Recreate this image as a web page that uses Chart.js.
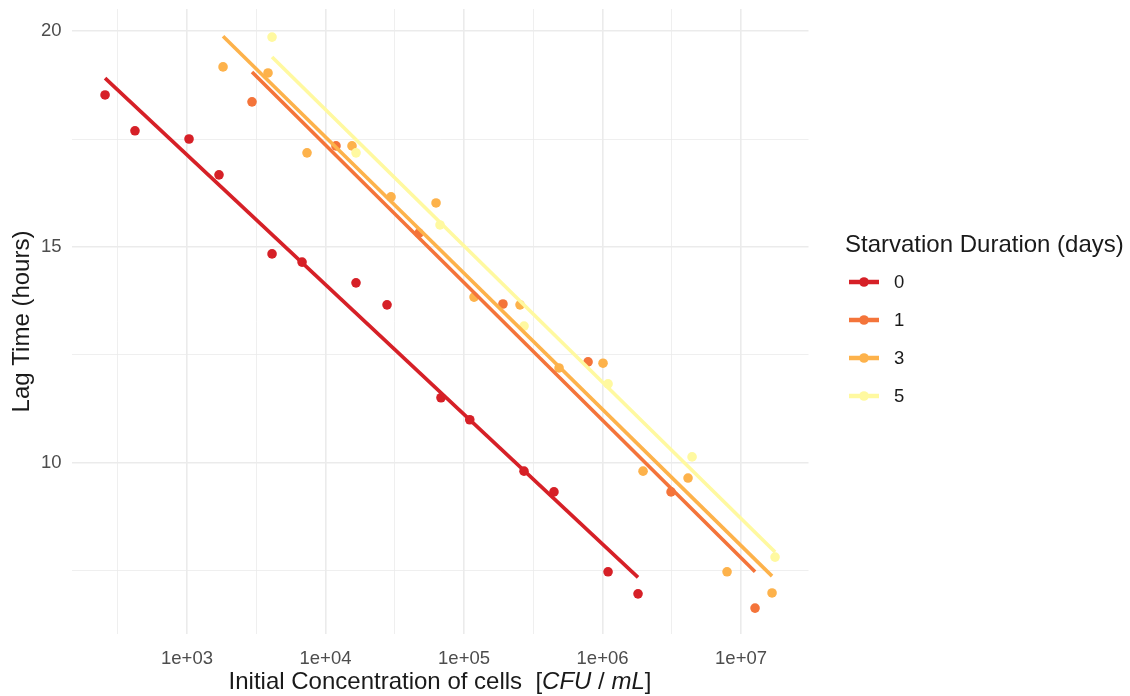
<!DOCTYPE html>
<html>
<head>
<meta charset="utf-8">
<script src="https://cdn.jsdelivr.net/npm/chart.js@4.4.1/dist/chart.umd.min.js"></script>
<style>
  html, body { margin: 0; padding: 0; background: #fff; }
  #wrap { width: 1130px; height: 696px; }
</style>
</head>
<body>
<div id="wrap"><canvas id="lagChart" width="1130" height="696"></canvas></div>
<script>
// groups (starvation duration, days)
const groups = ["0", "1", "3", "5"];
const colors = ["#D62027", "#F4743A", "#FDB24B", "#FFF9A0"];

// measured points: initial concentration (CFU/mL) and lag time (hours)
const conc0 = [256, 421, 1034, 1702, 4110, 6770, 16600, 27800, 68200, 110000, 271000, 446000, 1096000, 1804000];
const lag0 = [18.52, 17.69, 17.5, 16.67, 14.84, 14.65, 14.17, 13.66, 11.51, 11.0, 9.81, 9.33, 7.48, 6.97];
const conc1 = [2946, 11900, 47300, 191000, 786000, 3124000, 12620000];
const lag1 = [18.36, 17.34, 15.32, 13.68, 12.34, 9.33, 6.64];
const conc3 = [1820, 3844, 7352, 15530, 29710, 62790, 118100, 253700, 485200, 1008000, 1961000, 4143000, 7924000, 16740000];
const lag3 = [19.17, 19.03, 17.18, 17.34, 16.16, 16.02, 13.84, 13.66, 12.2, 12.31, 9.81, 9.65, 7.48, 6.99];
const conc5 = [4110, 16610, 67100, 271200, 1096000, 4430000, 17600000];
const lag5 = [19.86, 17.18, 15.51, 13.17, 11.83, 10.14, 7.82];

// fitted line end points
const fitX0 = [256, 1804000], fitY0 = [18.91, 7.35];
const fitX1 = [2946, 12620000], fitY1 = [19.05, 7.48];
const fitX3 = [1820, 16740000], fitY3 = [19.88, 7.38];
const fitX5 = [4110, 17600000], fitY5 = [19.4, 7.94];

// ticks
const xTicks = [316.2, 1e3, 3162, 1e4, 31623, 1e5, 316228, 1e6, 3162278, 1e7];
const xTickLabels = ["", "1e+03", "", "1e+04", "", "1e+05", "", "1e+06", "", "1e+07"];
const yTicks = [7.5, 10, 12.5, 15, 17.5, 20];
const yTickLabels = ["", "10", "", "15", "", "20"];

const pts = (xs, ys) => xs.map((x, i) => ({ x: x, y: ys[i] }));

const allConc = [conc0, conc1, conc3, conc5];
const allLag = [lag0, lag1, lag3, lag5];
const allFitX = [fitX0, fitX1, fitX3, fitX5];
const allFitY = [fitY0, fitY1, fitY3, fitY5];

const datasets = [];
groups.forEach((g, i) => {
  datasets.push({
    type: "scatter",
    label: g,
    data: pts(allConc[i], allLag[i]),
    backgroundColor: colors[i],
    borderWidth: 0,
    pointRadius: 4.8,
    order: 10 - i,
  });
});
groups.forEach((g, i) => {
  datasets.push({
    type: "line",
    label: g + " fit",
    data: pts(allFitX[i], allFitY[i]),
    borderColor: colors[i],
    borderWidth: 3.6,
    borderCapStyle: "butt",
    pointRadius: 0,
    fill: false,
    order: 5 - i,
  });
});

const isMajorX = (v) => Math.abs(Math.log10(v) - Math.round(Math.log10(v))) < 0.01;
const isMajorY = (v) => v % 5 === 0;
const FONT = "'Liberation Sans', Arial, sans-serif";

const extraText = {
  id: "extraText",
  afterDraw(chart) {
    const ctx = chart.ctx;
    const area = chart.chartArea;
    ctx.save();
    ctx.fillStyle = "#1A1A1A";
    // y title
    ctx.font = "24px " + FONT;
    ctx.textAlign = "center";
    ctx.textBaseline = "middle";
    ctx.save();
    ctx.translate(22, (area.top + area.bottom) / 2);
    ctx.rotate(-Math.PI / 2);
    ctx.fillText("Lag Time (hours)", 0, 0);
    ctx.restore();

    // x title with italic units
    const parts = [
      ["Initial Concentration of cells  [", "normal"],
      ["CFU", "italic"],
      [" / ", "normal"],
      ["mL", "italic"],
      ["]", "normal"],
    ];
    let total = 0;
    parts.forEach((p) => {
      ctx.font = (p[1] === "italic" ? "italic " : "") + "24px " + FONT;
      total += ctx.measureText(p[0]).width;
    });
    let x = (area.left + area.right) / 2 - total / 2;
    ctx.textAlign = "left";
    ctx.textBaseline = "alphabetic";
    parts.forEach((p) => {
      ctx.font = (p[1] === "italic" ? "italic " : "") + "24px " + FONT;
      ctx.fillText(p[0], x, 689);
      x += ctx.measureText(p[0]).width;
    });

    // legend
    ctx.font = "24px " + FONT;
    ctx.fillText("Starvation Duration (days)", 845, 252);
    const keyY = [282, 320, 358, 396];
    groups.forEach((g, i) => {
      ctx.strokeStyle = colors[i];
      ctx.lineWidth = 4.5;
      ctx.lineCap = "butt";
      ctx.beginPath();
      ctx.moveTo(849, keyY[i]);
      ctx.lineTo(879, keyY[i]);
      ctx.stroke();
      ctx.fillStyle = colors[i];
      ctx.beginPath();
      ctx.arc(864, keyY[i], 4.8, 0, Math.PI * 2);
      ctx.fill();
      ctx.fillStyle = "#1A1A1A";
      ctx.font = "18.5px " + FONT;
      ctx.textBaseline = "middle";
      ctx.fillText(g, 894, keyY[i] + 1);
    });
    ctx.restore();
  },
};

const ctxLag = document.getElementById("lagChart").getContext("2d");

const lagChart = new Chart(ctxLag, {
  data: { datasets: datasets },
  options: {
    responsive: false,
    animation: false,
    layout: { padding: { top: 9, right: 321.5, left: 0, bottom: 0 } },
    plugins: {
      legend: { display: false },
      tooltip: { enabled: false },
    },
    scales: {
      x: {
        type: "logarithmic",
        bounds: "data",
        min: Math.pow(10, 2.166),
        max: Math.pow(10, 7.487),
        afterBuildTicks: (scale) => {
          scale.ticks = xTicks.map((v) => ({ value: v }));
        },
        afterFit: (scale) => {
          scale.height = 62;
          scale.paddingLeft = 0;
          scale.paddingRight = 0;
        },
        border: { display: false },
        grid: {
          color: "#EBEBEB",
          lineWidth: (c) => (c.tick && isMajorX(c.tick.value) ? 1.6 : 0.8),
          drawTicks: false,
        },
        ticks: {
          autoSkip: false,
          maxRotation: 0,
          padding: 14,
          color: "#4D4D4D",
          font: { family: FONT, size: 18.5 },
          callback: (v, i) => xTickLabels[i],
        },
      },
      y: {
        type: "linear",
        bounds: "data",
        min: 6.04,
        max: 20.51,
        afterBuildTicks: (scale) => {
          scale.ticks = yTicks.map((v) => ({ value: v }));
        },
        afterFit: (scale) => {
          scale.width = 71.5;
          scale.paddingTop = 0;
          scale.paddingBottom = 0;
        },
        border: { display: false },
        grid: {
          color: "#EBEBEB",
          lineWidth: (c) => (c.tick && isMajorY(c.tick.value) ? 1.6 : 0.8),
          drawTicks: false,
        },
        ticks: {
          padding: 10,
          color: "#4D4D4D",
          font: { family: FONT, size: 18.5 },
          callback: (v, i) => yTickLabels[i],
        },
      },
    },
  },
  plugins: [extraText],
});
</script>
</body>
</html>
